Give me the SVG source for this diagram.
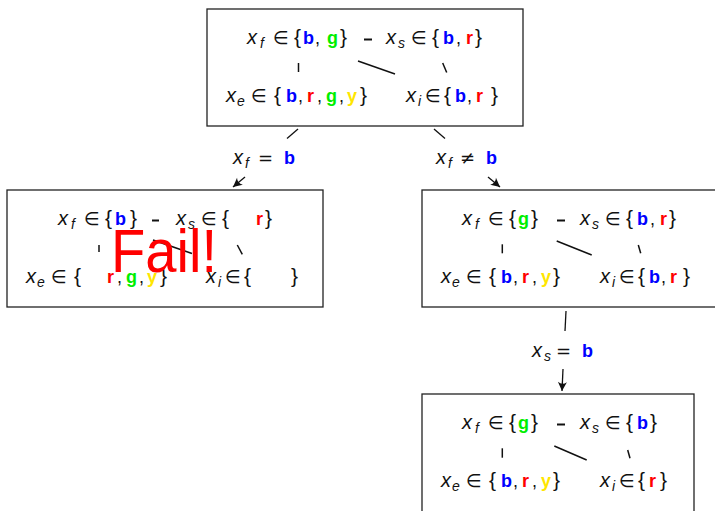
<svg xmlns="http://www.w3.org/2000/svg" width="715" height="511" viewBox="0 0 715 511">
<defs>
<style>
.box{fill:#fff;stroke:#222;stroke-width:1.3}
.t{font-family:"Liberation Sans","DejaVu Sans",sans-serif;font-size:18px;fill:#111}
.v{font-style:italic;font-size:20px}
.sub{font-style:italic;font-size:14px}
.op{font-family:"DejaVu Sans",sans-serif}
.br{font-size:21px}
.cb{font-weight:bold;fill:#0000ff}
.cr{font-weight:bold;fill:#ff0000}
.cg{font-weight:bold;fill:#00ee00}
.cy{font-weight:bold;fill:#ffe600}
.e{stroke:#111;stroke-width:1.5;fill:none}
.d{stroke:#111;stroke-width:2}
.c{stroke:#111;stroke-width:1.3;fill:none}
.fail{font-family:"Liberation Sans",sans-serif;font-size:62px;fill:#ff0000}
</style>
<marker id="ah" viewBox="-10 -6 12 12" refX="0" refY="0" markerWidth="12" markerHeight="12" markerUnits="userSpaceOnUse" orient="auto">
<path d="M0,0 L-9,-4.5 Q-5.5,0 -9,4.5 Z" fill="#111"/>
</marker>
</defs>

<g id="root" transform="translate(207,9)">
<rect class="box" x="0" y="0" width="316" height="117"/>
<text class="t" y="35"><tspan class="v" x="40">x</tspan><tspan class="sub" x="53" y="39">f</tspan><tspan class="op" x="66" y="35">∈</tspan><tspan class="br" x="87">{</tspan><tspan class="cb" x="96">b</tspan><tspan x="108">,</tspan><tspan class="cg" x="120">g</tspan><tspan class="br" x="133">}</tspan><tspan class="v" x="179">x</tspan><tspan class="sub" x="191" y="39">s</tspan><tspan class="op" x="204" y="35">∈</tspan><tspan class="br" x="225">{</tspan><tspan class="cb" x="236">b</tspan><tspan x="249">,</tspan><tspan class="cr" x="259">r</tspan><tspan class="br" x="268">}</tspan></text>
<text class="t" y="93"><tspan class="v" x="19">x</tspan><tspan class="sub" x="30" y="97">e</tspan><tspan class="op" x="44" y="93">∈</tspan><tspan class="br" x="67">{</tspan><tspan class="cb" x="79">b</tspan><tspan x="91">,</tspan><tspan class="cr" x="100">r</tspan><tspan x="110">,</tspan><tspan class="cg" x="119">g</tspan><tspan x="132">,</tspan><tspan class="cy" x="140">y</tspan><tspan class="br" x="153">}</tspan><tspan class="v" x="199">x</tspan><tspan class="sub" x="211" y="97">i</tspan><tspan class="op" x="218" y="93">∈</tspan><tspan class="br" x="237">{</tspan><tspan class="cb" x="248">b</tspan><tspan x="260">,</tspan><tspan class="cr" x="269">r</tspan><tspan class="br" x="284">}</tspan></text>
<line class="d" x1="157" y1="30.5" x2="165" y2="30.5"/>
<line class="e" x1="91.5" y1="54" x2="91.5" y2="63"/>
<line class="e" x1="151" y1="52" x2="188" y2="65"/>
<line class="e" x1="235.7" y1="54" x2="239.7" y2="63.5"/>
</g>

<g id="left" transform="translate(7,190)">
<rect class="box" x="0" y="0" width="316" height="117"/>
<text class="t" y="35"><tspan class="v" x="51">x</tspan><tspan class="sub" x="64" y="39">f</tspan><tspan class="op" x="77" y="35">∈</tspan><tspan class="br" x="98">{</tspan><tspan class="cb" x="108">b</tspan><tspan class="br" x="123">}</tspan><tspan class="v" x="169">x</tspan><tspan class="sub" x="181" y="39">s</tspan><tspan class="op" x="194" y="35">∈</tspan><tspan class="br" x="215">{</tspan><tspan class="cr" x="249">r</tspan><tspan class="br" x="258">}</tspan></text>
<text class="t" y="93"><tspan class="v" x="19">x</tspan><tspan class="sub" x="30" y="97">e</tspan><tspan class="op" x="44" y="93">∈</tspan><tspan class="br" x="67">{</tspan><tspan class="cr" x="100">r</tspan><tspan x="110">,</tspan><tspan class="cg" x="119">g</tspan><tspan x="132">,</tspan><tspan class="cy" x="140">y</tspan><tspan class="br" x="153">}</tspan><tspan class="v" x="199">x</tspan><tspan class="sub" x="211" y="97">i</tspan><tspan class="op" x="218" y="93">∈</tspan><tspan class="br" x="237">{</tspan><tspan class="br" x="284">}</tspan></text>
<line class="d" x1="145" y1="30.5" x2="152" y2="30.5"/>
<line class="e" x1="92" y1="55" x2="92" y2="62"/>
<line class="e" x1="146" y1="50" x2="185" y2="63.5"/>
<line class="e" x1="230.3" y1="55" x2="235.3" y2="64.3"/>
<text class="fail" x="111" y="272" textLength="106" lengthAdjust="spacingAndGlyphs" transform="translate(-7,-190)">Fail!</text>
</g>

<g id="right" transform="translate(422,190)">
<rect class="box" x="0" y="0" width="300" height="117"/>
<text class="t" y="35"><tspan class="v" x="40">x</tspan><tspan class="sub" x="53" y="39">f</tspan><tspan class="op" x="66" y="35">∈</tspan><tspan class="br" x="87">{</tspan><tspan class="cg" x="96">g</tspan><tspan class="br" x="109">}</tspan><tspan class="v" x="158">x</tspan><tspan class="sub" x="170" y="39">s</tspan><tspan class="op" x="183" y="35">∈</tspan><tspan class="br" x="204">{</tspan><tspan class="cb" x="215">b</tspan><tspan x="228">,</tspan><tspan class="cr" x="238">r</tspan><tspan class="br" x="247">}</tspan></text>
<text class="t" y="93"><tspan class="v" x="19">x</tspan><tspan class="sub" x="30" y="97">e</tspan><tspan class="op" x="44" y="93">∈</tspan><tspan class="br" x="67">{</tspan><tspan class="cb" x="79">b</tspan><tspan x="91">,</tspan><tspan class="cr" x="100">r</tspan><tspan x="110">,</tspan><tspan class="cy" x="119">y</tspan><tspan class="br" x="131">}</tspan><tspan class="v" x="178">x</tspan><tspan class="sub" x="190" y="97">i</tspan><tspan class="op" x="197" y="93">∈</tspan><tspan class="br" x="216">{</tspan><tspan class="cb" x="227">b</tspan><tspan x="239">,</tspan><tspan class="cr" x="248">r</tspan><tspan class="br" x="261">}</tspan></text>
<line class="d" x1="135" y1="30.5" x2="143" y2="30.5"/>
<line class="e" x1="80.3" y1="54.3" x2="80.3" y2="63.3"/>
<line class="e" x1="134.7" y1="51" x2="169.7" y2="65"/>
<line class="e" x1="216.3" y1="55" x2="218.7" y2="63.3"/>
</g>

<g id="bottom" transform="translate(422,394)">
<rect class="box" x="0" y="0" width="272" height="130"/>
<text class="t" y="35"><tspan class="v" x="40">x</tspan><tspan class="sub" x="53" y="39">f</tspan><tspan class="op" x="66" y="35">∈</tspan><tspan class="br" x="87">{</tspan><tspan class="cg" x="96">g</tspan><tspan class="br" x="109">}</tspan><tspan class="v" x="158">x</tspan><tspan class="sub" x="170" y="39">s</tspan><tspan class="op" x="183" y="35">∈</tspan><tspan class="br" x="204">{</tspan><tspan class="cb" x="215">b</tspan><tspan class="br" x="228">}</tspan></text>
<text class="t" y="93"><tspan class="v" x="19">x</tspan><tspan class="sub" x="30" y="97">e</tspan><tspan class="op" x="44" y="93">∈</tspan><tspan class="br" x="67">{</tspan><tspan class="cb" x="79">b</tspan><tspan x="91">,</tspan><tspan class="cr" x="100">r</tspan><tspan x="110">,</tspan><tspan class="cy" x="119">y</tspan><tspan class="br" x="131">}</tspan><tspan class="v" x="178">x</tspan><tspan class="sub" x="190" y="97">i</tspan><tspan class="op" x="197" y="93">∈</tspan><tspan class="br" x="216">{</tspan><tspan class="cr" x="227">r</tspan><tspan class="br" x="238">}</tspan></text>
<line class="d" x1="135" y1="30.5" x2="143" y2="30.5"/>
<line class="e" x1="80.3" y1="54.3" x2="80.3" y2="63.7"/>
<line class="e" x1="132.3" y1="52" x2="164.7" y2="66"/>
<line class="e" x1="205.7" y1="56" x2="208" y2="64.3"/>
</g>

<g id="connectors">
<line class="c" x1="298" y1="129" x2="287" y2="138.5"/>
<line class="c" x1="245" y1="177" x2="233" y2="187" marker-end="url(#ah)"/>
<text class="t" y="164"><tspan class="v" x="233">x</tspan><tspan class="sub" x="245" y="168">f</tspan><tspan class="op" x="258" y="164">=</tspan><tspan class="cb" x="284">b</tspan></text>
<line class="c" x1="434" y1="129" x2="445" y2="138.5"/>
<line class="c" x1="488" y1="177" x2="500" y2="187" marker-end="url(#ah)"/>
<text class="t" y="164"><tspan class="v" x="436">x</tspan><tspan class="sub" x="448" y="168">f</tspan><tspan class="op" x="460" y="164">≠</tspan><tspan class="cb" x="486">b</tspan></text>
<line class="c" x1="566" y1="311" x2="565" y2="331"/>
<line class="c" x1="563" y1="369" x2="562" y2="391" marker-end="url(#ah)"/>
<text class="t" y="357"><tspan class="v" x="532">x</tspan><tspan class="sub" x="544" y="361">s</tspan><tspan class="op" x="556" y="357">=</tspan><tspan class="cb" x="582">b</tspan></text>
</g>
</svg>
